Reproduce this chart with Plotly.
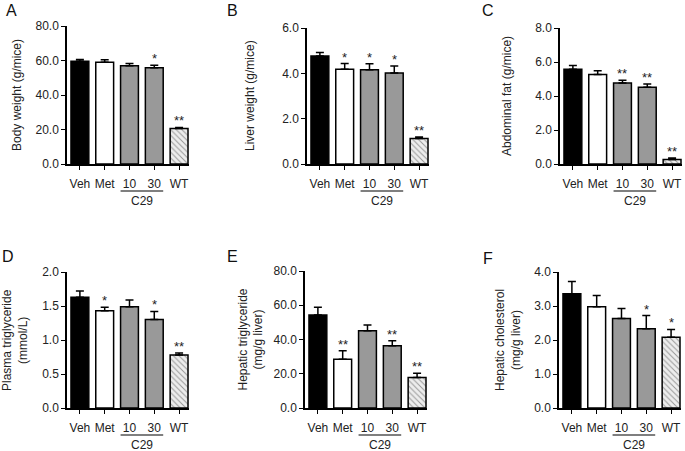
import plotly.graph_objects as go

W, H = 685, 451

groups = ["Veh", "Met", "10", "30", "WT"]

body_weight = [59.6, 59.0, 57.0, 55.8, 20.6]
body_weight_err = [1.0, 1.4, 1.3, 1.4, 0.6]
body_weight_sig = ["", "", "", "*", "**"]

liver_weight = [4.76, 4.18, 4.16, 4.01, 1.13]
liver_weight_err = [0.16, 0.25, 0.26, 0.31, 0.06]
liver_weight_sig = ["", "*", "*", "*", "**"]

abdominal_fat = [5.58, 5.26, 4.76, 4.51, 0.27]
abdominal_fat_err = [0.21, 0.22, 0.16, 0.19, 0.08]
abdominal_fat_sig = ["", "", "**", "**", "**"]

plasma_tg = [1.63, 1.43, 1.49, 1.30, 0.78]
plasma_tg_err = [0.09, 0.05, 0.10, 0.12, 0.03]
plasma_tg_sig = ["", "*", "", "*", "**"]

hepatic_tg = [54.3, 28.4, 45.1, 36.4, 17.8]
hepatic_tg_err = [4.5, 5.1, 3.3, 2.8, 2.5]
hepatic_tg_sig = ["", "**", "", "**", "**"]

hepatic_chol = [3.36, 2.98, 2.63, 2.33, 2.08]
hepatic_chol_err = [0.36, 0.33, 0.30, 0.39, 0.23]
hepatic_chol_sig = ["", "", "", "*", "*"]

panels = [
    dict(letter="A", vals=body_weight, errs=body_weight_err, sig=body_weight_sig,
         title="Body weight (g/mice)", ymax=80, dtick=20, fmt=".1f",
         px=(67, 189), py=(164, 26), title_x=17, letter_xy=(11, 10)),
    dict(letter="B", vals=liver_weight, errs=liver_weight_err, sig=liver_weight_sig,
         title="Liver weight (g/mice)", ymax=6, dtick=2, fmt=".1f",
         px=(307, 429), py=(164, 28), title_x=250, letter_xy=(232, 10)),
    dict(letter="C", vals=abdominal_fat, errs=abdominal_fat_err, sig=abdominal_fat_sig,
         title="Abdominal fat (g/mice)", ymax=8, dtick=2, fmt=".1f",
         px=(560, 682), py=(164, 28), title_x=507, letter_xy=(488, 10)),
    dict(letter="D", vals=plasma_tg, errs=plasma_tg_err, sig=plasma_tg_sig,
         title="Plasma triglyceride<br>(mmol/L)", ymax=2, dtick=0.5, fmt=".1f",
         px=(67, 189), py=(408, 272), title_x=15, letter_xy=(8, 256)),
    dict(letter="E", vals=hepatic_tg, errs=hepatic_tg_err, sig=hepatic_tg_sig,
         title="Hepatic triglyceride<br>(mg/g liver)", ymax=80, dtick=20, fmt=".1f",
         px=(305, 427), py=(408, 271), title_x=250, letter_xy=(232, 256)),
    dict(letter="F", vals=hepatic_chol, errs=hepatic_chol_err, sig=hepatic_chol_sig,
         title="Hepatic cholesterol<br>(mg/g liver)", ymax=4, dtick=1, fmt=".1f",
         px=(559, 681), py=(408, 272), title_x=508, letter_xy=(488, 258)),
]

FONT = "Liberation Sans, Arial, Helvetica, sans-serif"
bar_colors = ["#000000", "#ffffff", "#999999", "#999999", "#ededed"]
patterns = ["", "", "", "", "\\"]

fig = go.Figure()
annotations = []
shapes = []
layout = {}

for i, p in enumerate(panels):
    n = "" if i == 0 else str(i + 1)
    xa, ya = "x" + n, "y" + n
    fig.add_trace(go.Bar(
        x=groups, y=p["vals"], xaxis=xa, yaxis=ya, width=0.72,
        marker=dict(color=bar_colors, line=dict(color="black", width=1.5),
                    pattern=dict(shape=patterns, fgcolor="#8a8a8a", bgcolor="#efefef",
                                 size=4, solidity=0.25, fillmode="overlay")),
        error_y=dict(type="data", symmetric=False, array=p["errs"],
                     arrayminus=[0] * len(p["errs"]), color="black", thickness=1.5, width=4),
        showlegend=False, hoverinfo="skip",
    ))
    x0, x1 = p["px"]
    yb, yt = p["py"]
    layout["xaxis" + n] = dict(
        domain=[x0 / W, x1 / W], anchor=ya, type="category", range=[-0.52, 4.4],
        showline=True, linecolor="black", linewidth=1.5, ticks="outside", ticklen=4,
        tickwidth=1.3, tickcolor="black", showgrid=False, zeroline=False,
        automargin=False, fixedrange=True,
        tickfont=dict(family=FONT, size=12, color="#222"), ticklabelstandoff=4,
    )
    layout["yaxis" + n] = dict(
        domain=[1 - yb / H, 1 - yt / H], anchor=xa, range=[0, p["ymax"]],
        tickmode="linear", tick0=0, dtick=p["dtick"], tickformat=p["fmt"],
        showline=True, linecolor="black", linewidth=1.5, ticks="outside", ticklen=4,
        tickwidth=1.3, tickcolor="black", showgrid=False, zeroline=False,
        automargin=False, fixedrange=True,
        tickfont=dict(family=FONT, size=12, color="#222"),
    )
    # axis title
    annotations.append(dict(
        text=p["title"], xref="paper", yref="paper", x=p["title_x"] / W,
        y=1 - (yb + yt) / 2 / H, textangle=-90, showarrow=False,
        xanchor="center", yanchor="middle",
        font=dict(family=FONT, size=12, color="#222"),
    ))
    # panel letter
    lx, ly = p["letter_xy"]
    annotations.append(dict(
        text=p["letter"], xref="paper", yref="paper", x=lx / W, y=1 - ly / H,
        showarrow=False, xanchor="center", yanchor="middle",
        font=dict(family=FONT, size=16, color="#111"),
    ))
    # significance stars
    for k, (v, e, s) in enumerate(zip(p["vals"], p["errs"], p["sig"])):
        if s:
            annotations.append(dict(
                text=s, xref=xa, yref=ya, x=k, y=v + e, yanchor="bottom",
                showarrow=False, yshift=-3,
                font=dict(family=FONT, size=13, color="#222"),
            ))
    # C29 group line and label
    line_y = yb + 27
    shapes.append(dict(type="line", xref=xa, yref="paper", x0=1.64, x1=3.36,
                       y0=1 - line_y / H, y1=1 - line_y / H,
                       line=dict(color="black", width=1.2)))
    annotations.append(dict(
        text="C29", xref=xa, yref="paper", x=2.5, y=1 - (line_y + 10) / H,
        showarrow=False, xanchor="center", yanchor="middle",
        font=dict(family=FONT, size=12, color="#222"),
    ))

fig.update_layout(
    template="none",
    width=W, height=H, margin=dict(l=0, r=0, t=0, b=0, pad=0, autoexpand=False),
    paper_bgcolor="white", plot_bgcolor="white", bargap=0.28,
    annotations=annotations, shapes=shapes, **layout,
)

fig.write_html("out.html", config={"displayModeBar": False},
               post_script="document.body.style.margin='0px';")
